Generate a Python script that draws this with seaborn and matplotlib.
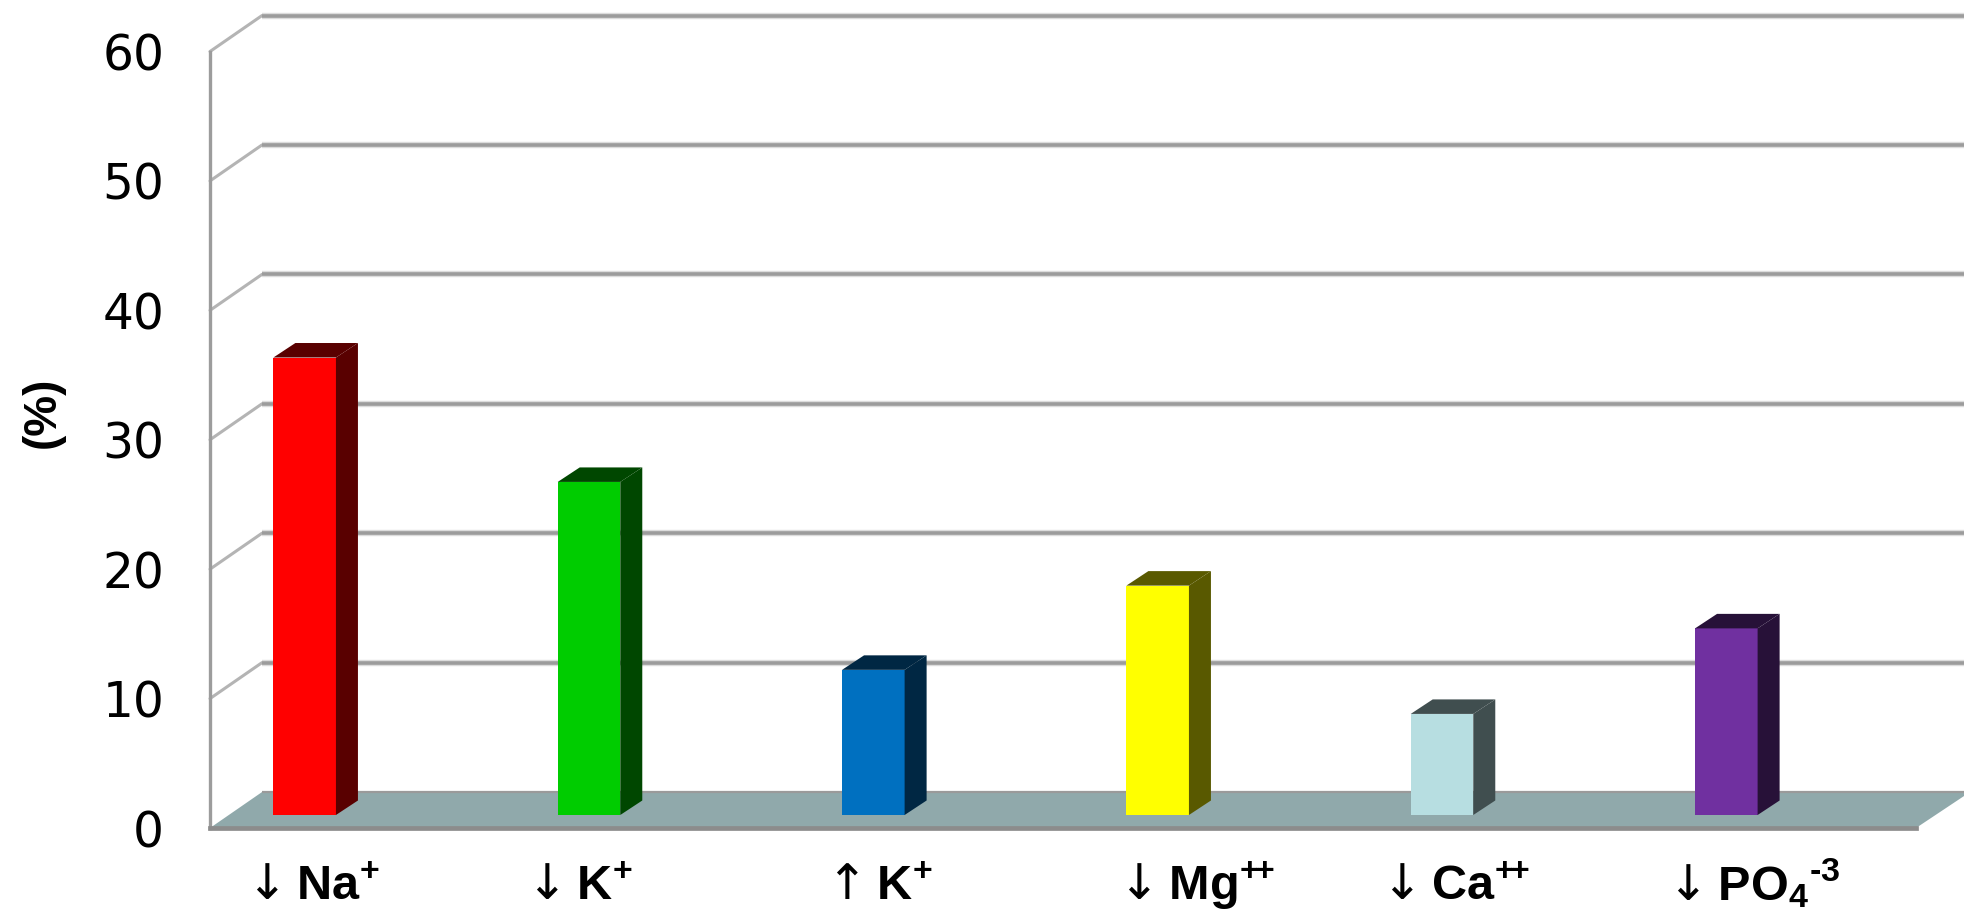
import matplotlib
matplotlib.use("Agg")
import matplotlib.pyplot as plt
from matplotlib.colors import to_rgb
from matplotlib.patches import Polygon
from matplotlib.transforms import ScaledTranslation
import seaborn as sns

ARROW_DOWN = r"$\mathcal{\downarrow}$"
ARROW_UP = r"$\mathcal{\uparrow}$"
categories = [
    ARROW_DOWN + "Na$^{+}$",
    ARROW_DOWN + "K$^{+}$",
    ARROW_UP + "K$^{+}$",
    ARROW_DOWN + r"Mg$^{+\!\!+}$",
    ARROW_DOWN + r"Ca$^{+\!\!+}$",
    ARROW_DOWN + r"PO$_{4}{}^{\text{-3}}$",
]
values = [35.3, 25.7, 11.2, 17.7, 7.8, 14.4]
bar_colors = ["#ff0000", "#00cc00", "#0070c0", "#ffff00", "#b7dee1", "#7030a0"]
y_ticks = [0, 10, 20, 30, 40, 50, 60]

W, H = 1964, 911
sns.set_theme(style="white")
plt.rcParams["font.family"] = ["Liberation Sans", "DejaVu Sans"]
plt.rcParams["mathtext.fontset"] = "custom"
plt.rcParams["mathtext.rm"] = "Liberation Sans:bold"
plt.rcParams["mathtext.cal"] = "DejaVu Sans"
plt.rcParams["mathtext.default"] = "rm"

fig = plt.figure(figsize=(W / 100, H / 100), dpi=100, facecolor="white")


def pixel_axes(left, right, top, bottom):
    return fig.add_axes([left / W, 1 - bottom / H, (right - left) / W, (bottom - top) / H])


# Front plane of the chart box: carries the value axis and the 3D walls.
ax_wall = pixel_axes(210, 1916, 51.5, 828)
ax_wall.set_xlim(0, 1706)
ax_wall.set_ylim(0, 60)
ax_wall.set_yticks(y_ticks)
ax_wall.set_xticks([])
ax_wall.tick_params(axis="y", length=13, width=2.9, color="#9c9c9c", pad=20, labelsize=35, labelcolor="black")
for lab in ax_wall.get_yticklabels():
    lab.set_fontfamily("DejaVu Sans")
for side in ("top", "right"):
    ax_wall.spines[side].set_visible(False)
ax_wall.spines["left"].set_color("#9c9c9c")
ax_wall.spines["left"].set_linewidth(2.4)
ax_wall.spines["bottom"].set_color("#8c8c8c")
ax_wall.spines["bottom"].set_linewidth(3.4)
ax_wall.set_ylabel("(%)", fontsize=33, fontweight="bold", color="black", labelpad=0)
ax_wall.yaxis.set_label_coords(-0.085, 0.535)

depth_px = 52
depth_val = 36 / 12.96
back_end = 1964 - 210

# Floor of the box
ax_wall.add_patch(Polygon([(0, 0), (1706, 0), (1706 + depth_px + 2, depth_val), (depth_px, depth_val)],
                          closed=True, facecolor="#90a9ab", edgecolor="none", clip_on=False, zorder=1))

# Side wall slants and back wall gridlines
for v in y_ticks:
    if v == 0:
        ax_wall.plot([depth_px, back_end], [depth_val, depth_val], color="#9a9a9a", lw=1.6,
                     clip_on=False, zorder=1.5, solid_capstyle="butt")
        continue
    ax_wall.plot([0, depth_px], [v, v + depth_val], color="#b4b4b4", lw=2.2, clip_on=False, zorder=1)
    ax_wall.plot([depth_px, back_end], [v + depth_val, v + depth_val], color="#dcdcdc", lw=4.6,
                 clip_on=False, zorder=1, solid_capstyle="butt")
    ax_wall.plot([depth_px, back_end], [v + depth_val, v + depth_val], color="#9c9c9c", lw=2.6,
                 clip_on=False, zorder=1.2, solid_capstyle="butt")

# Bars stand slightly above the front floor edge.
ax_bars = pixel_axes(162.5, 1868.5, 37.4, 815)
ax_bars.patch.set_alpha(0)
sns.barplot(x=categories, y=values, hue=categories, palette=bar_colors, dodge=False, legend=False,
            width=0.22, saturation=1, linewidth=0, ax=ax_bars)
ax_bars.set_xlim(-0.5, 5.5)
ax_bars.set_ylim(0, 60)
ax_bars.set_yticks([])
ax_bars.set_xlabel("")
ax_bars.set_ylabel("")
for spine in ax_bars.spines.values():
    spine.set_visible(False)

# Side and top faces extruded from each seaborn bar, darker than its front.
dx = 22 / (1706 / 6)
dy = 14.5 / 12.96
for patch in list(ax_bars.patches):
    x0 = patch.get_x()
    x1 = x0 + patch.get_width()
    h = patch.get_height()
    if h == 0:
        continue
    dark = tuple(c * 0.35 for c in to_rgb(patch.get_facecolor()))
    ax_bars.add_patch(Polygon([(x1, 0), (x1 + dx, dy), (x1 + dx, h + dy), (x1, h)], closed=True,
                              facecolor=dark, edgecolor="none", clip_on=False))
    ax_bars.add_patch(Polygon([(x0, h), (x0 + dx, h + dy), (x1 + dx, h + dy), (x1, h)], closed=True,
                              facecolor=dark, edgecolor="none", clip_on=False))

# Category labels: bold text on a shared baseline, nudged sideways from the bar centres.
label_shift_px = [4, -14, 1, 34, 9, 23]
ax_bars.tick_params(axis="x", length=0, pad=61, labelsize=35, labelcolor="black")
ax_bars.set_xticks(range(len(categories)))
ax_bars.set_xticklabels(categories, fontweight="bold")
for lab, shift in zip(ax_bars.get_xticklabels(), label_shift_px):
    lab.set_verticalalignment("baseline")
    lab.set_transform(lab.get_transform() + ScaledTranslation(shift / 100, 0, fig.dpi_scale_trans))

fig.savefig("out.png", dpi=100, facecolor="white")
